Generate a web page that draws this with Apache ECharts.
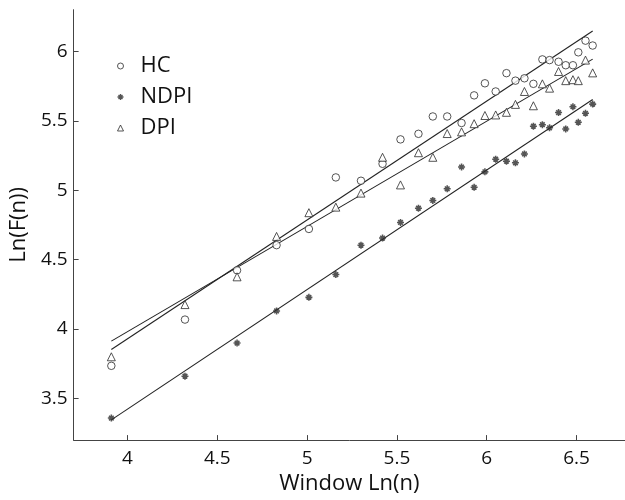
<!DOCTYPE html>
<html>
<head>
<meta charset="utf-8">
<script src="https://cdn.jsdelivr.net/npm/echarts@6/dist/echarts.min.js"></script>
<style>html,body{margin:0;padding:0;background:#fff;}#c{width:625px;height:500px;}</style>
</head>
<body>
<div id="c"></div>
<script>
// Window Ln(n)
var xVals = [3.91, 4.32, 4.61, 4.83, 5.01, 5.16, 5.30, 5.42, 5.52, 5.62, 5.70, 5.78, 5.86, 5.93, 5.99, 6.05, 6.11, 6.16, 6.21, 6.26, 6.31, 6.35, 6.40, 6.44, 6.48, 6.51, 6.55, 6.59];
var hcVals = [3.735, 4.068, 4.423, 4.604, 4.721, 5.092, 5.068, 5.19, 5.366, 5.406, 5.531, 5.531, 5.484, 5.683, 5.770, 5.711, 5.843, 5.789, 5.806, 5.766, 5.942, 5.937, 5.925, 5.90, 5.90, 5.993, 6.077, 6.042];
var ndpiVals = [3.359, 3.66, 3.899, 4.13, 4.228, 4.392, 4.604, 4.655, 4.768, 4.870, 4.926, 5.01, 5.167, 5.021, 5.132, 5.223, 5.209, 5.197, 5.261, 5.461, 5.472, 5.449, 5.559, 5.441, 5.601, 5.489, 5.554, 5.62];
var dpiVals = [3.80, 4.176, 4.376, 4.667, 4.838, 4.878, 4.979, 5.237, 5.038, 5.27, 5.237, 5.408, 5.42, 5.479, 5.538, 5.542, 5.561, 5.618, 5.711, 5.608, 5.766, 5.735, 5.855, 5.789, 5.796, 5.789, 5.937, 5.845];
var seriesNames = ['HC', 'NDPI', 'DPI'];
var xTicks = [4, 4.5, 5, 5.5, 6, 6.5];
var yTicks = [3.5, 4, 4.5, 5, 5.5, 6];

function pairs(ys) { return xVals.map(function (x, i) { return [x, ys[i]]; }); }
function fitLine(ys) {
  var n = xVals.length, sx = 0, sy = 0, sxx = 0, sxy = 0;
  for (var i = 0; i < n; i++) { sx += xVals[i]; sy += ys[i]; sxx += xVals[i] * xVals[i]; sxy += xVals[i] * ys[i]; }
  var b = (n * sxy - sx * sy) / (n * sxx - sx * sx);
  var a = (sy - b * sx) / n;
  var x0 = xVals[0], x1 = xVals[n - 1];
  return [[x0, a + b * x0], [x1, a + b * x1]];
}
var starPath = 'path://M0,3.9L10,3.9L10,6.1L0,6.1Z M3.9,0L6.1,0L6.1,10L3.9,10Z M0.9,2.5L2.5,0.9L9.1,7.5L7.5,9.1Z M7.5,0.9L9.1,2.5L2.5,9.1L0.9,7.5Z M2.7,5A2.3,2.3,0,1,1,7.3,5A2.3,2.3,0,1,1,2.7,5Z';
var ink = '#2a2a2a';
var font = 'Open Sans';

var chart = echarts.init(document.getElementById('c'), null, { renderer: 'canvas' });
function scatter(name, ys, symbol, size) {
  var isPath = symbol.indexOf('path') === 0;
  return {
    name: name, type: 'scatter', data: pairs(ys), symbol: symbol, symbolSize: size,
    itemStyle: isPath ? { color: ink, borderWidth: 0 } : { color: '#fff', borderColor: ink, borderWidth: 1 },
    z: 3
  };
}
function fit(ys) {
  return { type: 'line', data: fitLine(ys), symbol: 'none', silent: true,
    lineStyle: { color: '#222', width: 1.1 }, z: 2 };
}
chart.setOption({
  animation: false,
  backgroundColor: '#fff',
  grid: { left: 71, right: 0, top: 9.7, bottom: 50.7, containLabel: false },
  legend: {
    data: seriesNames, orient: 'vertical', left: 112, top: 50,
    itemWidth: 6, itemHeight: 6, itemGap: 9,
    itemStyle: { borderWidth: 1 },
    textStyle: { fontFamily: font, fontSize: 22, color: '#111', padding: [0, 0, 0, 12], lineHeight: 22 }
  },
  xAxis: {
    type: 'value', min: 3.7, max: 6.77,
    name: 'Window Ln(n)', nameLocation: 'middle', nameGap: 30,
    nameTextStyle: { fontFamily: font, fontSize: 22, color: '#111' },
    axisLine: { show: true, lineStyle: { color: '#444', width: 1 } },
    axisTick: { show: true, inside: true, length: 5, lineStyle: { color: '#444' }, customValues: xTicks },
    axisLabel: { fontFamily: font, fontSize: 19, color: '#111', margin: 9, customValues: xTicks },
    splitLine: { show: false }
  },
  yAxis: {
    type: 'value', min: 3.2, max: 6.3,
    name: 'Ln(F(n))', nameLocation: 'middle', nameGap: 43,
    nameTextStyle: { fontFamily: font, fontSize: 22, color: '#111' },
    axisLine: { show: true, lineStyle: { color: '#444', width: 1 } },
    axisTick: { show: true, inside: true, length: 5, lineStyle: { color: '#444' }, customValues: yTicks },
    axisLabel: { fontFamily: font, fontSize: 19, color: '#111', margin: 6, customValues: yTicks },
    splitLine: { show: false }
  },
  series: [
    scatter('HC', hcVals, 'circle', 7.5),
    scatter('NDPI', ndpiVals, starPath, 7),
    scatter('DPI', dpiVals, 'triangle', 8),
    fit(hcVals), fit(ndpiVals), fit(dpiVals)
  ]
});
</script>
</body>
</html>
